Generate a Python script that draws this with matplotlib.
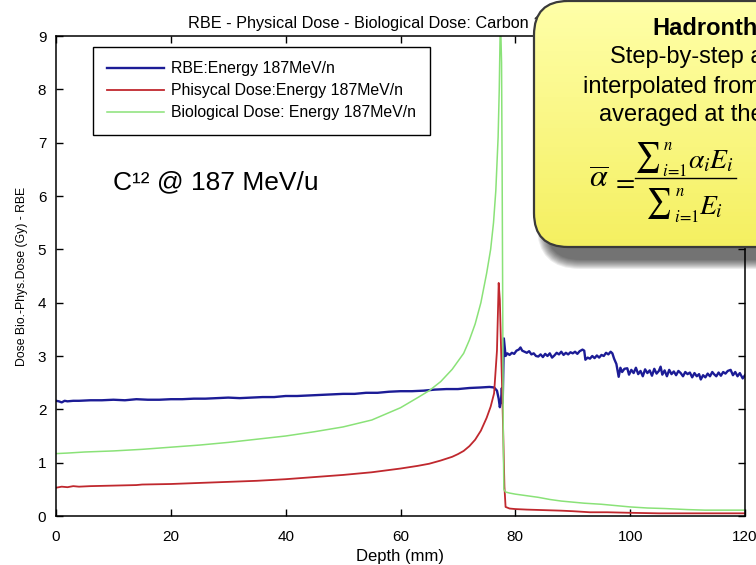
import numpy as np
import matplotlib
matplotlib.use('Agg')
import matplotlib.pyplot as plt
from matplotlib.patches import FancyBboxPatch, PathPatch
from matplotlib.textpath import TextPath
from matplotlib.font_manager import FontProperties
from matplotlib.transforms import Affine2D

plt.rcParams['font.family'] = ['Liberation Sans', 'DejaVu Sans']

# depth (mm) / value pairs read per curve
rbe_depth = [0, 0.5, 1, 1.5, 2, 3, 4, 6, 8, 10, 12, 14, 16, 18, 20, 22, 24, 26, 28, 30,
             32, 34, 36, 38, 40, 42, 44, 46, 48, 50, 52, 54, 56, 58, 60, 62, 64, 66, 68,
             70, 72, 74, 75.5, 76.3, 76.8, 77.1, 77.3, 77.5, 77.65, 77.8, 78.0,
             78.3, 78.6, 79.0, 79.4, 79.8, 80.2, 80.6, 80.9, 81.2, 81.6, 82.0, 82.4,
             82.8, 83.2, 83.6, 84.0, 84.4, 84.8, 85.2, 85.6, 86.0, 86.4, 86.8, 87.2,
             87.6, 88.0, 88.4, 88.8, 89.2, 89.6, 90.0, 90.4, 90.8, 91.2, 91.7, 92.0,
             92.2, 92.6, 93.0, 93.4, 93.8, 94.2, 94.6, 95.0, 95.4, 95.8, 96.2, 96.6,
             96.9, 97.2, 97.6, 98.0, 98.3, 98.6, 99.0, 99.5, 99.8, 100.2, 100.6, 101.0,
             101.4, 101.8, 102.2, 102.6, 103.0, 103.4, 103.8, 104.2, 104.6, 105.0,
             105.3, 105.6, 106.0, 106.4, 106.8, 107.2, 107.6, 108.0, 108.4, 108.8,
             109.2, 109.6, 110.0, 110.4, 110.8, 111.2, 111.6, 112.0, 112.3, 112.7,
             113.1, 113.5, 113.9, 114.3, 114.6, 115.0, 115.4, 115.8, 116.2, 116.6,
             117.0, 117.5, 117.9, 118.3, 118.7, 119.1, 119.6, 120.0]
rbe_value = [2.16, 2.15, 2.13, 2.16, 2.15, 2.16, 2.16, 2.17, 2.17, 2.18, 2.17, 2.19, 2.18,
             2.18, 2.19, 2.19, 2.20, 2.20, 2.21, 2.22, 2.21, 2.22, 2.23, 2.23, 2.25, 2.25,
             2.26, 2.27, 2.28, 2.29, 2.29, 2.31, 2.31, 2.33, 2.34, 2.34, 2.35, 2.37, 2.38,
             2.38, 2.40, 2.41, 2.42, 2.41, 2.35, 2.20, 2.04, 2.15, 2.40, 2.12, 3.33,
             3.00, 3.05, 3.02, 3.06, 3.04, 3.10, 3.12, 3.16, 3.10, 3.08, 3.06, 3.09,
             3.03, 3.05, 3.00, 2.99, 3.03, 2.98, 3.04, 3.00, 3.05, 2.97, 3.01, 3.06,
             3.03, 3.08, 3.02, 3.06, 3.03, 3.07, 3.05, 3.08, 3.04, 3.09, 3.12, 3.10,
             2.93, 2.97, 2.95, 3.00, 2.96, 3.01, 2.97, 3.02, 3.00, 3.06, 3.03, 3.08,
             3.05, 2.95, 2.85, 2.61, 2.78, 2.70, 2.76, 2.77, 2.65, 2.74, 2.68, 2.78,
             2.66, 2.72, 2.62, 2.75, 2.68, 2.73, 2.63, 2.76, 2.67, 2.72,
             2.80, 2.65, 2.73, 2.62, 2.74, 2.66, 2.71, 2.64, 2.72, 2.68,
             2.62, 2.70, 2.66, 2.69, 2.60, 2.68, 2.62, 2.66, 2.56, 2.64,
             2.60, 2.67, 2.62, 2.70, 2.66, 2.62, 2.69, 2.63, 2.70, 2.67,
             2.72, 2.74, 2.64, 2.70, 2.62, 2.68, 2.58, 2.64]

phys_depth = [0, 1, 2, 3, 4, 6, 10, 14, 15, 20, 25, 30, 35, 40, 45, 50, 55, 60, 63, 65,
              67, 69, 70, 71, 72, 73, 74, 75, 75.7, 76.3, 76.8, 77.1, 77.3, 77.5, 77.7,
              77.9, 78.1, 78.3, 79, 80, 82, 85, 88, 90, 93, 96, 100, 105, 110, 115, 120]
phys_value = [0.53, 0.55, 0.54, 0.56, 0.55, 0.56, 0.57, 0.58, 0.59, 0.60, 0.62, 0.64,
              0.66, 0.69, 0.73, 0.77, 0.82, 0.89, 0.94, 0.98, 1.04, 1.11, 1.16, 1.22,
              1.31, 1.43, 1.60, 1.84, 2.05, 2.30, 3.10, 4.37, 4.05, 3.20, 2.40, 1.50,
              0.55, 0.17, 0.14, 0.13, 0.12, 0.11, 0.10, 0.09, 0.07, 0.07, 0.06, 0.05,
              0.05, 0.05, 0.05]

bio_depth = [0, 2, 5, 10, 15, 20, 25, 30, 35, 40, 45, 50, 55, 60, 63, 65, 67, 69, 70, 71,
             72, 73, 74, 75, 75.7, 76.2, 76.6, 77.0, 77.2, 77.4, 77.6, 77.7, 77.8, 77.9,
             78.0, 78.3, 79, 80, 82, 84, 86, 88, 90, 92, 95, 98, 100, 103, 106, 110, 113,
             116, 120]
bio_value = [1.17, 1.18, 1.20, 1.22, 1.25, 1.29, 1.33, 1.38, 1.44, 1.50, 1.58, 1.67, 1.80,
             2.03, 2.22, 2.35, 2.52, 2.75, 2.90, 3.05, 3.30, 3.60, 4.00, 4.55, 5.00, 5.50,
             6.10, 7.10, 8.00, 9.40, 8.50, 6.50, 4.00, 1.50, 0.50, 0.45, 0.43, 0.41, 0.38,
             0.35, 0.31, 0.28, 0.26, 0.24, 0.22, 0.19, 0.17, 0.15, 0.14, 0.12, 0.11, 0.11,
             0.11]

labels = ['RBE:Energy 187MeV/n', 'Phisycal Dose:Energy 187MeV/n',
          'Biological Dose: Energy 187MeV/n']
colors = ['#1c1c96', '#c0282e', '#8ae278']

note_lines = ['Step-by-step approach', 'interpolated from tables', 'averaged at the slice']

W, H = 756, 565


def draw_curves(fig):
    '''Main depth-dose panel'''
    ax = fig.add_axes([56 / W, 1 - 516 / H, 689 / W, 480 / H])
    ax.plot(rbe_depth, rbe_value, color=colors[0], lw=1.7, label=labels[0])
    ax.plot(phys_depth, phys_value, color=colors[1], lw=1.3, label=labels[1])
    ax.plot(bio_depth, bio_value, color=colors[2], lw=1.1, label=labels[2])
    ax.set_xlim(0, 120)
    ax.set_ylim(0, 9)
    ax.set_xticks(range(0, 121, 20))
    ax.set_yticks(range(0, 10))
    ax.tick_params(direction='in', top=True, right=True, length=5, width=1,
                   labelsize=11)
    ax.tick_params(axis='x', pad=10)
    ax.tick_params(axis='y', pad=7)
    for sp in ax.spines.values():
        sp.set_linewidth(1.1)
    ax.set_xlabel('Depth (mm)', fontsize=12, labelpad=4)
    ax.set_ylabel('Dose Bio.-Phys.Dose (Gy) - RBE', fontsize=8.8, labelpad=7)
    ax.set_title('RBE - Physical Dose - Biological Dose: Carbon 187 MeV/u',
                 fontsize=11.7, pad=6)
    leg = ax.legend(loc='upper left', bbox_to_anchor=(93 / W, 1 - 47 / H),
                    bbox_transform=fig.transFigure, borderaxespad=0,
                    fancybox=False, framealpha=1, edgecolor='black',
                    fontsize=11.4, handlelength=3.6, handletextpad=0.4,
                    labelspacing=0.45, borderpad=0.9)
    leg.get_frame().set_linewidth(1.0)
    return ax


def big_sigma(ax, left, top, w, h):
    '''Tall n-ary sum sign squeezed into a w x h pixel box (y grows downward)'''
    tp = TextPath((0, 0), '∑', size=50, prop=FontProperties(family='STIXGeneral'))
    ext = tp.get_extents()
    tr = (Affine2D().translate(-ext.x0, -ext.y0)
          .scale(w / ext.width, -h / ext.height)
          .translate(left, top + h))
    ax.add_patch(PathPatch(tr.transform_path(tp), fc='black', ec='none', zorder=4))


def draw_note(fig):
    '''Yellow callout with the averaging formula, plus the beam label'''
    ov = fig.add_axes([0, 0, 1, 1], zorder=5)
    ov.set_xlim(0, W)
    ov.set_ylim(H, 0)
    ov.axis('off')

    ov.text(113, 182, 'C¹² @ 187 MeV/u', fontsize=19, va='center', ha='left')

    x0, y0, bw, bh = 534, 1, 420, 246
    # soft drop shadow
    for k in range(10):
        g = 9 - k
        ov.add_patch(FancyBboxPatch((x0 + 12 - g, y0 + 13 - g), bw + 2 * g, bh + 2 * g,
                                    boxstyle='round,pad=0,rounding_size=%d' % (34 + g),
                                    fc='black', ec='none', alpha=0.075))
    box = FancyBboxPatch((x0, y0), bw, bh, boxstyle='round,pad=0,rounding_size=34',
                         fc='none', ec='#3a3a3a', lw=1.6, zorder=3)
    ov.add_patch(box)
    grad = np.linspace(0, 1, 64)[:, None, None]
    top = np.array([1.0, 1.0, 0.66])
    bot = np.array([0.96, 0.94, 0.38])
    img = top * (1 - grad) + bot * grad
    im = ov.imshow(img, extent=(x0, x0 + bw, y0 + bh, y0), origin='upper',
                   aspect='auto', zorder=2)
    im.set_clip_path(box)
    ov.set_xlim(0, W)
    ov.set_ylim(H, 0)

    ov.text(652, 28, 'Hadrontherapy', fontsize=17, fontweight='bold',
            ha='left', va='center', zorder=4)
    for (x, y), s in zip([(610, 57), (583, 87), (599, 115)], note_lines):
        ov.text(x, y, s, fontsize=17, ha='left', va='center', zorder=4)

    # averaged alpha = sum(alpha_i E_i) / sum(E_i)
    mf = dict(math_fontfamily='stix', zorder=4)
    ov.text(599, 180, r'$\overline{\alpha}$', fontsize=23, ha='center', va='center', **mf)
    ov.text(623, 182, r'$=$', fontsize=20, ha='center', va='center', **mf)
    big_sigma(ov, 637, 142, 22, 31)
    ov.text(663, 145, r'$n$', fontsize=12, ha='left', va='center', **mf)
    ov.text(662, 171, r'$i\!=\!1$', fontsize=12, ha='left', va='center', **mf)
    ov.text(688, 161, r'$\alpha_i E_i$', fontsize=20, ha='left', va='center', **mf)
    ov.plot([635, 736], [178, 178], color='black', lw=1.0, zorder=4)
    big_sigma(ov, 648, 188, 22, 31)
    ov.text(675, 191, r'$n$', fontsize=12, ha='left', va='center', **mf)
    ov.text(674, 217, r'$i\!=\!1$', fontsize=12, ha='left', va='center', **mf)
    ov.text(699, 207, r'$E_i$', fontsize=20, ha='left', va='center', **mf)


def main():
    fig = plt.figure(figsize=(W / 100, H / 100), dpi=100)
    draw_curves(fig)
    draw_note(fig)
    fig.savefig('out.png', dpi=100)


if __name__ == '__main__':
    main()
